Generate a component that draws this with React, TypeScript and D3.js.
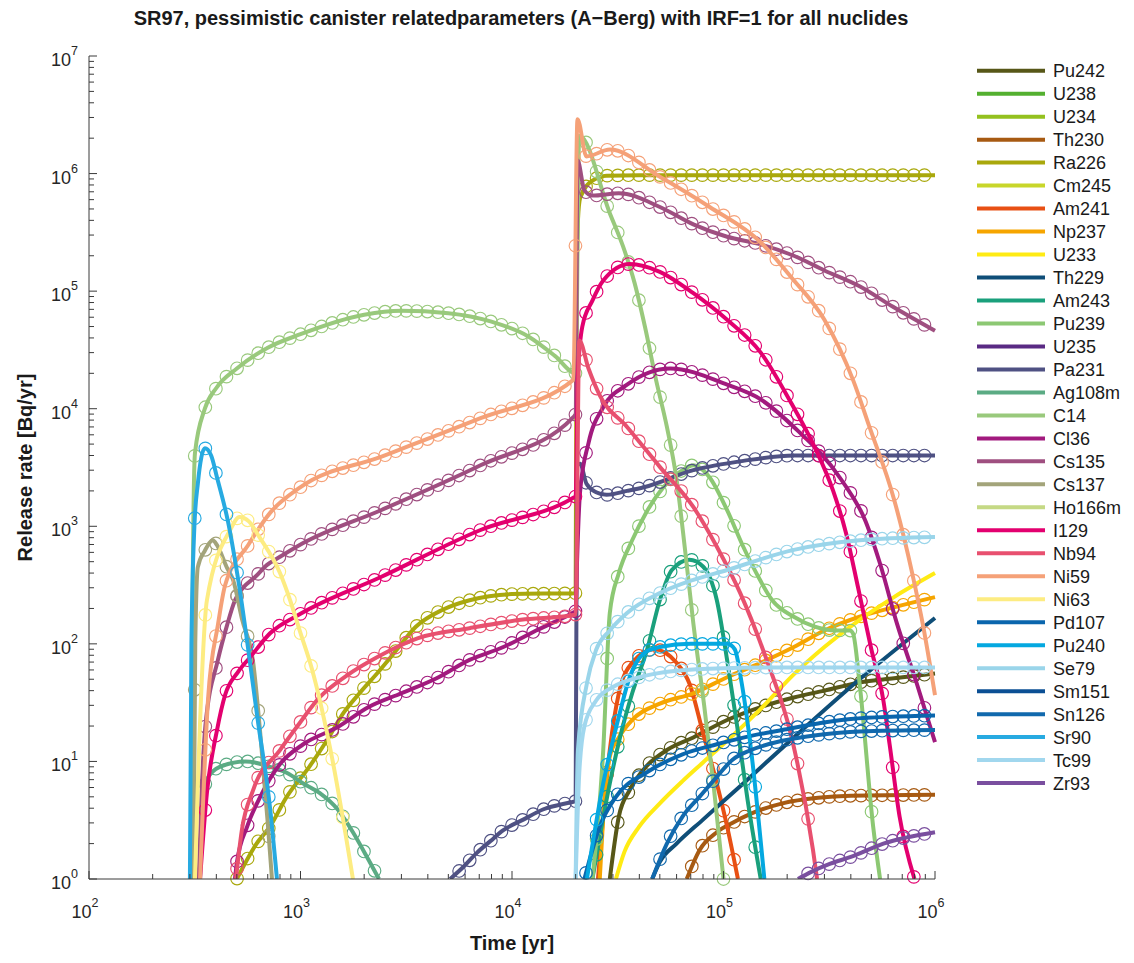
import React from "react";
import * as d3 from "d3";

type Pt = [number, number];

// ---- Release rate [Bq/yr] vs time [yr] ----
const Pu242: Pt[] = [[2.9e4,1],[3.2e4,3.4],[3.6e4,5.7],[4.3e4,9],[5.4e4,12.5],[7.2e4,16],[1.04e5,22.5],[1.5e5,29],[2.15e5,35],[3e5,40],[4.4e5,47],[6.4e5,51],[1e6,56]];
const U238: Pt[] = [];
const U234: Pt[] = [];
const Th230: Pt[] = [[6.7e4,1],[7.7e4,1.76],[9.3e4,2.5],[1.1e5,3],[1.35e5,3.6],[1.9e5,4.4],[2.8e5,4.9],[4e5,5.1],[1e6,5.2]];
const Ra226: Pt[] = [[500,1],[620,2],[718,2.8],[860,5],[1100,9],[1330,15],[1600,26],[1900,38],[2300,56],[2850,89],[3500,139],[4700,195],[6300,235],[1e4,265],[2e4,270],[2.02e4,1e5],[2.05e4,4e5],[2.1e4,6.2e5],[2.4e4,8.7e5],[2.8e4,9.6e5],[4e4,9.7e5],[1e6,9.7e5]];
const Cm245: Pt[] = [];
const Am241: Pt[] = [[2.55e4,1],[2.9e4,12.5],[3.2e4,38],[3.7e4,69],[4.7e4,90],[6e4,69],[6.9e4,46],[8e4,17.5],[9.3e4,6.5],[1.04e5,2.8],[1.17e5,1]];
const Np237: Pt[] = [[2.6e4,1],[2.7e4,3.4],[2.9e4,11],[3.2e4,16],[3.7e4,22.5],[5e4,31],[7.2e4,38],[1.04e5,52],[1.5e5,69],[2.15e5,94],[3e5,130],[4.4e5,170],[6.4e5,205],[1e6,250]];
const U233: Pt[] = [[3.1e4,1],[3.4e4,1.7],[4e4,2.8],[5e4,4.4],[6.4e4,6.8],[8e4,9.8],[1.04e5,15],[1.5e5,28],[2.15e5,55],[3e5,94],[4.4e5,160],[6.4e5,250],[1e6,400]];
const Th229: Pt[] = [[4.6e4,1],[5e4,1.4],[6e4,2.0],[8e4,3.2],[1.24e5,6.5],[2.15e5,16],[4.4e5,50],[1e6,166]];
const Am243: Pt[] = [[2.4e4,1],[2.9e4,6.5],[3.24e4,16],[3.7e4,38],[4.35e4,89],[5e4,235],[5.7e4,425],[6.9e4,520],[8e4,455],[9.3e4,235],[1.04e5,73],[1.16e5,20],[1.3e5,4.7],[1.5e5,1]];
const Pu239: Pt[] = [[2.4e4,1],[2.7e4,12.5],[2.9e4,183],[3.2e4,400],[3.7e4,760],[4.3e4,1300],[5.2e4,2150],[6.4e4,3000],[7.2e4,3300],[8.6e4,2600],[1.04e5,1370],[1.24e5,670],[1.43e5,400],[1.7e5,235],[2.15e5,170],[2.7e5,140],[3.4e5,130],[3.96e5,130],[4.1e5,122],[4.4e5,46],[5.1e5,2.8],[5.5e5,1]];
const U235: Pt[] = [];
const Pa231: Pt[] = [[5.1e3,1],[5.9e3,1.27],[6.8e3,1.66],[7.9e3,2.1],[9.1e3,2.6],[1.13e4,3.2],[1.4e4,3.9],[1.9e4,4.5],[2.0e4,4.6],[2.03e4,3.3e3],[2.1e4,3.4e3],[2.25e4,2.3e3],[2.5e4,1.95e3],[2.8e4,1.85e3],[3.5e4,2e3],[4.2e4,2.15e3],[7.2e4,3e3],[1.24e5,3.6e3],[2.15e5,4e3],[1e6,4e3]];
const Ag108m: Pt[] = [[335,1],[345,4],[360,7],[415,9],[550,10],[720,9],[860,8],[1030,6.5],[1230,5.4],[1500,3.9],[1770,2.5],[2100,1.45],[2350,1]];
const C14: Pt[] = [[305,1],[310,500],[317,4200],[353,1e4],[400,1.5e4],[500,2.2e4],[700,3.3e4],[1e3,4.3e4],[2e3,6.3e4],[3e3,6.8e4],[5e3,6.5e4],[8e3,5.5e4],[1.2e4,4.1e4],[1.6e4,2.8e4],[2e4,2e4],[2.08e4,2.1e6],[2.9e4,4.6e5],[3.35e4,2.4e5],[3.8e4,1.17e5],[4.25e4,5e4],[4.8e4,1.75e4],[5.4e4,7e3],[6e4,2.5e3],[6.6e4,600],[7.2e4,150],[8.1e4,30],[9e4,6],[1e5,1]];
const Cl36: Pt[] = [[490,1],[500,1.37],[560,2.8],[645,5],[800,9.5],[1030,14],[1500,19.6],[2100,29],[3000,38],[4400,51],[6300,73],[9100,94],[1.3e4,130],[1.95e4,185],[2.0e4,190],[2.03e4,500],[2.1e4,2e3],[2.3e4,5.1e3],[2.7e4,1.03e4],[3.5e4,1.6e4],[5.6e4,2.2e4],[1.04e5,1.6e4],[1.5e5,1.2e4],[2.15e5,7e3],[3.6e5,2.5e3],[4.7e5,1.1e3],[5.5e5,480],[6.6e5,150],[8.2e5,46],[1e6,14.6]];
const Cs135: Pt[] = [[330,1],[340,5],[355,20],[407,73],[450,145],[490,235],[535,300],[610,370],[695,470],[800,550],[1030,720],[2400,1370],[7100,3300],[1.95e4,8500],[2.0e4,9e3],[2.04e4,1.3e6],[2.2e4,7.2e5],[2.4e4,6.5e5],[3.2e4,6.8e5],[5e4,5.2e5],[7.2e4,3.7e5],[1.04e5,2.9e5],[1.5e5,2.5e5],[2.15e5,2e5],[3e5,1.5e5],[4.4e5,1.1e5],[6.3e5,7.4e4],[1e6,4.6e4]];
const Cs137: Pt[] = [[312,1],[318,100],[327,450],[353,620],[385,760],[403,690],[450,440],[480,350],[530,160],[597,70],[645,17.5],[700,3],[733,1]];
const Ho166m: Pt[] = [];
const I129: Pt[] = [[335,1],[361,5.4],[403,18.5],[440,36.7],[506,57.5],[578,77],[718,123],[1e3,180],[2.4e3,370],[7.1e3,930],[1.95e4,1750],[2.0e4,1800],[2.05e4,2e4],[2.15e4,5e4],[2.4e4,8.3e4],[2.7e4,1.23e5],[3.6e4,1.7e5],[5e4,1.46e5],[7.2e4,9.6e4],[1.04e5,5.7e4],[1.5e5,3e4],[2.1e5,1.1e4],[2.7e5,4.7e3],[3.3e5,2e3],[3.8e5,870],[4.33e5,300],[5e5,90],[5.7e5,33],[6.1e5,14],[6.8e5,3.4],[8e5,1]];
const Nb94: Pt[] = [[495,1],[528,2.6],[597,5.7],[800,12.5],[960,19.6],[1230,35],[1660,54],[2300,77],[3600,112],[6300,136],[1.1e4,160],[1.95e4,176],[2.0e4,178],[2.08e4,3.8e4],[2.3e4,2.2e4],[2.6e4,1.3e4],[3.5e4,7e3],[5e4,3.2e3],[7.2e4,1.46e3],[9.3e4,670],[1.2e5,270],[1.6e5,73],[2.1e5,16],[2.65e5,1.76],[2.77e5,1]];
const Ni59: Pt[] = [[335,1],[366,35],[407,145],[440,315],[565,690],[718,1300],[1e3,2150],[2.4e3,3900],[7.1e3,8300],[1.95e4,1.76e4],[2.04e4,2.9e6],[2.25e4,1.4e6],[2.9e4,1.6e6],[5e4,9.4e5],[8.6e4,5.2e5],[1.5e5,2.6e5],[2.1e5,1.3e5],[3e5,5.7e4],[4.1e5,1.75e4],[4.9e5,7e3],[6.4e5,1.7e3],[7.8e5,400],[8.8e5,140],[1e6,36.6]];
const Ni63: Pt[] = [[317,1],[328,7.4],[361,235],[465,930],[515,1200],[570,1100],[642,800],[800,400],[893,235],[995,127],[1130,62],[1410,10.7],[1770,1]];
const Pd107: Pt[] = [[2.2e4,1],[2.6e4,2.8],[3.1e4,5],[4.3e4,8],[6.4e4,11.5],[9.3e4,14],[1.35e5,16.5],[1.9e5,18.5],[2.8e5,21],[4e5,23],[1e6,24.6]];
const Pu240: Pt[] = [[2.26e4,1],[2.7e4,6.5],[3.2e4,24],[3.6e4,52],[4.2e4,83],[5e4,94],[7e4,100],[1.04e5,100],[1.13e5,90],[1.22e5,46],[1.35e5,12.5],[1.56e5,1]];
const Se79: Pt[] = [[2.0e4,1],[2.05e4,12.5],[2.26e4,46],[2.5e4,89],[2.9e4,130],[3.5e4,183],[5e4,270],[7.2e4,350],[1.04e5,425],[2.15e5,630],[4.4e5,760],[1e6,810]];
const Sm151: Pt[] = [];
const Sn126: Pt[] = [[4.6e4,1],[5.4e4,2],[6.4e4,3.4],[7.7e4,5],[9.3e4,7.4],[1.1e5,10.3],[1.35e5,12.5],[1.9e5,15],[2.8e5,16.8],[4.4e5,18],[1e6,18.5]];
const Sr90: Pt[] = [[300,1],[305,100],[315,1000],[327,2300],[353,4600],[378,4000],[403,2600],[454,1100],[506,363],[630,21.6],[718,4],[774,1]];
const Tc99: Pt[] = [[2.0e4,1],[2.08e4,8],[2.2e4,20],[2.5e4,33],[3e4,43],[4e4,52],[6e4,59],[1e5,62],[2e5,63],[1e6,63]];
const Zr93: Pt[] = [[2.25e5,1],[2.6e5,1.15],[3.2e5,1.35],[4e5,1.54],[5.7e5,2],[1e6,2.5]];

const NUCLIDES = ["Pu242","U238","U234","Th230","Ra226","Cm245","Am241","Np237","U233","Th229","Am243","Pu239","U235","Pa231","Ag108m","C14","Cl36","Cs135","Cs137","Ho166m","I129","Nb94","Ni59","Ni63","Pd107","Pu240","Se79","Sm151","Sn126","Sr90","Tc99","Zr93"];
const COLORS = ["#575718","#54b030","#94c11f","#a75a12","#a9a80c","#c8d62a","#e85014","#f6a500","#ffeb14","#0f4e78","#1aa07c","#8cc873","#5a2a84","#4f5183","#5bab84","#99c97c","#a21a7e","#9f4f80","#a3a47a","#c5d985","#e3006f","#e8506f","#f5a178","#fdec82","#0a66ad","#04a8e0","#9ad5ea","#0b4f94","#1169ad","#27aae1","#a1d7ee","#7a4f9f"];
const DATA: Pt[][] = [Pu242,U238,U234,Th230,Ra226,Cm245,Am241,Np237,U233,Th229,Am243,Pu239,U235,Pa231,Ag108m,C14,Cl36,Cs135,Cs137,Ho166m,I129,Nb94,Ni59,Ni63,Pd107,Pu240,Se79,Sm151,Sn126,Sr90,Tc99,Zr93];
const NO_MARKERS = ["U233", "Th229"];

// marker sample times of the comparison series (20 per decade)
const MARKER_TIMES: number[] = d3.range(0, 80).map((k) => Math.pow(10, 2 + k / 20));

const X_DECADES = [2, 3, 4, 5, 6];
const Y_DECADES = [0, 1, 2, 3, 4, 5, 6, 7];

const W = 1134, H = 963;
const X0 = 89, X1 = 935, Y0 = 879, Y1 = 56;
const FONT = "'Liberation Sans', Arial, Helvetica, sans-serif";

type Seg = number[];
function bezierSegments(pts: Pt[]): Seg[] {
  const segs: Seg[] = [];
  let cx = 0, cy = 0;
  const ctx: any = {
    moveTo(x: number, y: number) { cx = x; cy = y; },
    lineTo(x: number, y: number) {
      segs.push([cx, cy, cx + (x - cx) / 3, cy + (y - cy) / 3, cx + (2 * (x - cx)) / 3, cy + (2 * (y - cy)) / 3, x, y]);
      cx = x; cy = y;
    },
    bezierCurveTo(a: number, b: number, c: number, d: number, x: number, y: number) {
      segs.push([cx, cy, a, b, c, d, x, y]);
      cx = x; cy = y;
    },
    closePath() {},
  };
  d3.line<Pt>().curve(d3.curveMonotoneX).context(ctx)(pts);
  return segs;
}
function yAt(segs: Seg[], x: number): number | null {
  for (const s of segs) {
    const [x0, y0, , c1y, , c2y, x1, y1] = s;
    if (x1 > x0 && x >= x0 && x <= x1) {
      const u = (x - x0) / (x1 - x0), v = 1 - u;
      return v * v * v * y0 + 3 * v * v * u * c1y + 3 * v * u * u * c2y + u * u * u * y1;
    }
  }
  return null;
}

export default function App() {
  const x = d3.scaleLog().domain([1e2, 1e6]).range([X0, X1]);
  const y = d3.scaleLog().domain([1, 1e7]).range([Y0, Y1]);
  const lineGen = d3.line<Pt>().curve(d3.curveMonotoneX);

  const series = NUCLIDES.map((name, i) => {
    const data = DATA[i];
    if (!data.length) return null;
    const pts: Pt[] = data.map(([t, v]) => [x(t), y(v)]);
    const path = lineGen(pts) || "";
    const markers: Pt[] = [];
    if (!NO_MARKERS.includes(name)) {
      const segs = bezierSegments(pts);
      const xmin = pts[0][0], xmax = pts[pts.length - 1][0];
      for (const t of MARKER_TIMES) {
        const px = x(t);
        if (px < xmin || px > xmax) continue;
        const py = yAt(segs, px);
        if (py == null || py > Y0 + 0.5) continue;
        markers.push([px, py]);
      }
    }
    return { name, color: COLORS[i], path, markers };
  });

  const xMinor: number[] = [];
  for (const e of X_DECADES.slice(0, -1)) for (let m = 2; m <= 9; m++) xMinor.push(m * Math.pow(10, e));
  const yMinor: number[] = [];
  for (const e of Y_DECADES.slice(0, -1)) for (let m = 2; m <= 9; m++) yMinor.push(m * Math.pow(10, e));

  const axisColor = "#3a3a3a";
  const legendY = (i: number) => 70.7 + i * 22.98;

  return (
    <svg width={W} height={H} style={{ position: "absolute", left: 0, top: 0, background: "#fff" }} fontFamily={FONT}>
      <rect x={0} y={0} width={W} height={H} fill="#fff" />
      <defs>
        <clipPath id="plotClip">
          <rect x={X0} y={30} width={X1 - X0 + 2} height={Y0 - 30} />
        </clipPath>
      </defs>

      {series.map((s) =>
        s ? (
          <g key={s.name}>
            <path d={s.path} fill="none" stroke={s.color} strokeWidth={4} strokeLinejoin="round" clipPath="url(#plotClip)" />
            {s.markers.map((m, j) => (
              <circle key={j} cx={m[0]} cy={m[1]} r={6.3} fill="none" stroke={s.color} strokeWidth={1.15} />
            ))}
          </g>
        ) : null
      )}

      {/* axes */}
      <line x1={X0} x2={X0} y1={Y1} y2={Y0} stroke={axisColor} strokeWidth={1} />
      <line x1={X0} x2={X1} y1={Y0} y2={Y0} stroke={axisColor} strokeWidth={1} />
      {Y_DECADES.map((e) => (
        <line key={"ym" + e} x1={X0} x2={X0 + 8} y1={y(Math.pow(10, e))} y2={y(Math.pow(10, e))} stroke={axisColor} />
      ))}
      {yMinor.map((v) => (
        <line key={"yn" + v} x1={X0} x2={X0 + 5} y1={y(v)} y2={y(v)} stroke={axisColor} />
      ))}
      {X_DECADES.map((e) => (
        <line key={"xm" + e} x1={x(Math.pow(10, e))} x2={x(Math.pow(10, e))} y1={Y0} y2={Y0 - 8} stroke={axisColor} />
      ))}
      {xMinor.map((v) => (
        <line key={"xn" + v} x1={x(v)} x2={x(v)} y1={Y0} y2={Y0 - 5} stroke={axisColor} />
      ))}
      {Y_DECADES.map((e) => (
        <text key={"yl" + e} x={78} y={y(Math.pow(10, e)) + 10} textAnchor="end" fontSize={18} fill="#262626">
          10<tspan dy={-11} fontSize={12.5}>{e}</tspan>
        </text>
      ))}
      {X_DECADES.map((e) => (
        <text key={"xl" + e} x={x(Math.pow(10, e)) - 4} y={918} textAnchor="middle" fontSize={18} fill="#262626">
          10<tspan dy={-11} fontSize={12.5}>{e}</tspan>
        </text>
      ))}

      <text x={512} y={950} textAnchor="middle" fontSize={20} fontWeight="bold" fill="#1a1a1a">Time [yr]</text>
      <text transform={`translate(32,${(Y0 + Y1) / 2}) rotate(-90)`} textAnchor="middle" fontSize={20} fontWeight="bold" fill="#1a1a1a">
        Release rate [Bq/yr]
      </text>
      <text x={521} y={25} textAnchor="middle" fontSize={20} fontWeight="bold" fill="#1a1a1a">
        SR97, pessimistic canister relatedparameters (A−Berg) with IRF=1 for all nuclides
      </text>

      {/* legend */}
      {NUCLIDES.map((name, i) => (
        <g key={"lg" + name}>
          <line x1={977} x2={1045} y1={legendY(i)} y2={legendY(i)} stroke={COLORS[i]} strokeWidth={4} />
          <text x={1053} y={legendY(i) + 6.5} fontSize={18} fill="#1a1a1a">{name}</text>
        </g>
      ))}
    </svg>
  );
}
